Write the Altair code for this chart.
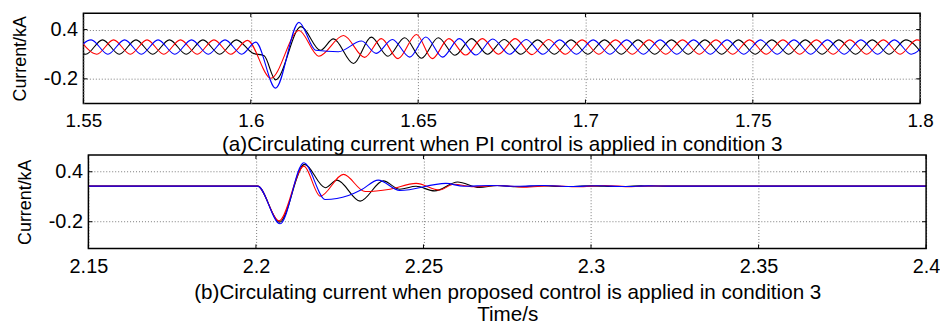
import altair as alt
import pandas as pd

# ---------------- panel (a): PI control, condition 3 ----------------
A_BLACK_T = [1.5457, 1.5507, 1.5557, 1.5607, 1.5657, 1.5707, 1.5757, 1.5807, 1.5857, 1.5907, 1.5957,
             1.6005, 1.6040, 1.6074, 1.6150, 1.6208, 1.6247, 1.6307, 1.6360, 1.6410, 1.6460, 1.6510,
             1.6560, 1.6610, 1.6660,
             1.6707, 1.6757, 1.6807, 1.6857, 1.6907, 1.6957, 1.7007, 1.7057, 1.7107, 1.7157, 1.7207,
             1.7257, 1.7307, 1.7357, 1.7407, 1.7457, 1.7507, 1.7557, 1.7607, 1.7657, 1.7707, 1.7757,
             1.7807, 1.7857, 1.7907, 1.7957, 1.8007]
A_BLACK_V = [0.275, 0.10, 0.275, 0.10, 0.275, 0.10, 0.275, 0.10, 0.275, 0.10, 0.275,
             0.115, 0.08, -0.212, 0.436, 0.148, 0.287, -0.013, 0.308, 0.076, 0.30, 0.05,
             0.30, 0.088, 0.29,
             0.10, 0.28, 0.10, 0.275, 0.10, 0.275, 0.10, 0.275, 0.10, 0.275, 0.10,
             0.275, 0.10, 0.275, 0.10, 0.275, 0.10, 0.275, 0.10, 0.275, 0.10, 0.275,
             0.10, 0.275, 0.10, 0.275, 0.10]

A_RED_T = [1.549, 1.554, 1.559, 1.564, 1.569, 1.574, 1.579, 1.584, 1.589, 1.594, 1.599,
           1.6060, 1.6144, 1.6203, 1.6277, 1.6340, 1.6390, 1.6440, 1.6495, 1.6542, 1.6592, 1.6642,
           1.6692,
           1.674, 1.679, 1.684, 1.689, 1.694, 1.699, 1.704, 1.709, 1.714, 1.719, 1.724, 1.729,
           1.734, 1.739, 1.744, 1.749, 1.754, 1.759, 1.764, 1.769, 1.774, 1.779, 1.784, 1.789,
           1.794, 1.799, 1.804]
A_RED_V = [0.275, 0.10, 0.275, 0.10, 0.275, 0.10, 0.275, 0.10, 0.275, 0.10, 0.268,
           -0.193, 0.388, 0.076, 0.328, 0.062, 0.29, 0.046, 0.34, 0.046, 0.29, 0.09,
           0.29,
           0.10, 0.29, 0.095, 0.28, 0.10, 0.275, 0.10, 0.275, 0.10, 0.275, 0.10, 0.275,
           0.10, 0.275, 0.10, 0.275, 0.10, 0.275, 0.10, 0.275, 0.10, 0.275, 0.10, 0.275,
           0.10, 0.275, 0.10]

A_BLUE_T = [1.5473, 1.5523, 1.5573, 1.5623, 1.5673, 1.5723, 1.5773, 1.5823, 1.5873, 1.5923, 1.5973,
            1.6015, 1.6074, 1.6144, 1.6194, 1.6262, 1.6331, 1.6375, 1.6423, 1.6475, 1.6523, 1.6573,
            1.6623, 1.6673, 1.6723, 1.6773, 1.6823,
            1.6873, 1.6923, 1.6973, 1.7023, 1.7073, 1.7123, 1.7173, 1.7223, 1.7273, 1.7323, 1.7373,
            1.7423, 1.7473, 1.7523, 1.7573, 1.7623, 1.7673, 1.7723, 1.7773, 1.7823, 1.7873, 1.7923,
            1.7973, 1.8023]
A_BLUE_V = [0.10, 0.275, 0.10, 0.275, 0.10, 0.275, 0.10, 0.275, 0.10, 0.275, 0.10,
            0.247, -0.313, 0.488, 0.148, 0.13, 0.26, 0.11, 0.28, 0.065, 0.31, 0.065,
            0.29, 0.09, 0.285, 0.10, 0.28,
            0.10, 0.275, 0.10, 0.275, 0.10, 0.275, 0.10, 0.275, 0.10, 0.275, 0.10,
            0.275, 0.10, 0.275, 0.10, 0.275, 0.10, 0.275, 0.10, 0.275, 0.10, 0.275,
            0.10, 0.275]

# ---------------- panel (b): proposed control, condition 3 ----------------
B_BLACK_T = [2.15, 2.2005, 2.2071, 2.2145, 2.2207, 2.2242, 2.2311, 2.2380, 2.2429, 2.2478, 2.2533,
             2.2602, 2.2666, 2.2720, 2.2780, 2.2850, 2.2920, 2.3000, 2.3080, 2.3150, 2.3230, 2.40]
B_BLACK_V = [0.2275, 0.2275, -0.205, 0.488, 0.208, 0.30, 0.047, 0.29, 0.19, 0.225, 0.17,
             0.277, 0.21, 0.235, 0.22, 0.232, 0.222, 0.23, 0.222, 0.23, 0.2275, 0.2275]

B_RED_T = [2.15, 2.2005, 2.2069, 2.2143, 2.2192, 2.2261, 2.2326, 2.2400, 2.2478, 2.2548, 2.2590,
           2.2650, 2.2720, 2.2800, 2.2880, 2.2960, 2.3040, 2.3120, 2.3180, 2.3230, 2.40]
B_RED_V = [0.2275, 0.2275, -0.19, 0.468, 0.107, 0.368, 0.162, 0.19, 0.26, 0.18, 0.25,
           0.22, 0.235, 0.215, 0.232, 0.22, 0.235, 0.22, 0.23, 0.2275, 0.2275]

B_BLUE_T = [2.15, 2.2005, 2.2072, 2.2143, 2.2207, 2.2276, 2.2316, 2.2365, 2.2429, 2.2567, 2.2620,
            2.2700, 2.2780, 2.2860, 2.2940, 2.3020, 2.3100, 2.3170, 2.3230, 2.40]
B_BLUE_V = [0.2275, 0.2275, -0.225, 0.508, 0.067, 0.115, 0.187, 0.30, 0.175, 0.26, 0.225,
            0.235, 0.225, 0.235, 0.222, 0.232, 0.222, 0.23, 0.2275, 0.2275]

X_DOMAIN_A = [1.55, 1.8]
X_DOMAIN_B = [2.15, 2.4]
X_TICKS_A = [1.55, 1.6, 1.65, 1.7, 1.75, 1.8]
X_TICKS_B = [2.15, 2.2, 2.25, 2.3, 2.35, 2.4]
Y_TICKS = [-0.2, 0.4]
Y_DOMAIN_A = [-0.5, 0.6]
Y_DOMAIN_B = [-0.52, 0.6]

COLORS = {"black": "#000000", "red": "#ff0000", "blue": "#0000ff"}
CAPTION_A = "(a)Circulating current when PI control is applied in condition 3"
CAPTION_B = "(b)Circulating current when proposed control is applied in condition 3"
X_TITLE = "Time/s"
Y_TITLE = "Current/kA"

FONT = "Liberation Sans"
GRID_COLOR = "#7a7a7a"
GRID_DASH = [1, 2]
TICK_LEN = 4


def panel(series, xdom, ydom, xticks, title, w, h, xlab, tpad, shift=0):
    """shift > 0: the plot frame starts `shift` px right of the panel origin (panel (b))."""
    xscale = alt.Scale(domain=xdom, nice=False, zero=False, range=[shift, w]) if shift else \
        alt.Scale(domain=xdom, nice=False, zero=False)
    yscale = alt.Scale(domain=ydom, nice=False, zero=False)
    xaxis = alt.Axis(values=xticks, labelExpr="toString(datum.value)", labelFlush=False,
                     title=title, labelFontSize=xlab, labelPadding=8, titleFontSize=20.8,
                     titlePadding=tpad, titleLineHeight=23)
    yaxis_kw = dict(values=Y_TICKS, labelExpr="toString(datum.value)", labelFlush=False,
                    title=Y_TITLE, labelFontSize=20, labelPadding=6, titleFontSize=18,
                    titlePadding=14)
    if shift:
        yaxis = alt.Axis(offset=-shift, grid=False, **yaxis_kw)
    else:
        yaxis = alt.Axis(**yaxis_kw)

    layers = []
    if shift:
        grid_df = pd.DataFrame({"g": Y_TICKS})
        layers.append(
            alt.Chart(grid_df).mark_rule(color=GRID_COLOR, strokeDash=GRID_DASH, strokeWidth=1)
            .encode(y=alt.Y("g:Q", scale=yscale, axis=yaxis),
                    x=alt.X(datum=xdom[0], scale=xscale, axis=xaxis), x2=alt.X2(datum=xdom[1]))
        )
    for name, t, v in series:
        df = pd.DataFrame({"t": t, "v": v})
        layers.append(
            alt.Chart(df)
            .mark_line(color=COLORS[name], strokeWidth=1.1, interpolate="monotone", clip=True)
            .encode(x=alt.X("t:Q", scale=xscale, axis=xaxis),
                    y=alt.Y("v:Q", scale=yscale, axis=yaxis))
        )

    # inward tick marks (MATLAB style) on all four sides
    xt = pd.DataFrame({"xt": xticks})
    yt = pd.DataFrame({"yt": Y_TICKS})
    tick = dict(color="#000000", strokeWidth=1)
    layers.append(alt.Chart(xt).mark_rule(**tick).encode(
        x=alt.X("xt:Q", scale=xscale, axis=xaxis), y=alt.value(0), y2=alt.value(TICK_LEN)))
    layers.append(alt.Chart(xt).mark_rule(**tick).encode(
        x=alt.X("xt:Q", scale=xscale, axis=xaxis), y=alt.value(h - TICK_LEN), y2=alt.value(h)))
    layers.append(alt.Chart(yt).mark_rule(**tick).encode(
        y=alt.Y("yt:Q", scale=yscale, axis=yaxis), x=alt.value(shift), x2=alt.value(shift + TICK_LEN)))
    layers.append(alt.Chart(yt).mark_rule(**tick).encode(
        y=alt.Y("yt:Q", scale=yscale, axis=yaxis), x=alt.value(w - TICK_LEN), x2=alt.value(w)))

    if shift:
        layers.append(
            alt.Chart(pd.DataFrame({"f": [0]}))
            .mark_rect(fill=None, fillOpacity=0, stroke="#000000", strokeWidth=1.5)
            .encode(x=alt.X(datum=xdom[0], scale=xscale, axis=xaxis), x2=alt.X2(datum=xdom[1]),
                    y=alt.Y(datum=ydom[0], scale=yscale, axis=yaxis), y2=alt.Y2(datum=ydom[1]))
        )
        return alt.layer(*layers).properties(
            width=w, height=h, view=alt.ViewBackground(stroke="transparent", strokeWidth=0))
    return alt.layer(*layers).properties(width=w, height=h)


top = panel([("black", A_BLACK_T, A_BLACK_V), ("red", A_RED_T, A_RED_V), ("blue", A_BLUE_T, A_BLUE_V)],
            X_DOMAIN_A, Y_DOMAIN_A, X_TICKS_A, CAPTION_A, 843, 91, 19, 4)
bottom = panel([("black", B_BLACK_T, B_BLACK_V), ("red", B_RED_T, B_RED_V), ("blue", B_BLUE_T, B_BLUE_V)],
               X_DOMAIN_B, Y_DOMAIN_B, X_TICKS_B, [CAPTION_B, X_TITLE], 849, 94, 20, 6, shift=5)

chart = (
    alt.vconcat(top, bottom, spacing=-1)
    .properties(padding={"left": 2, "top": 2, "right": 0, "bottom": 0})
    .configure_view(stroke="#000000", strokeWidth=1.5)
    .configure_axis(
        grid=True, gridColor=GRID_COLOR, gridDash=GRID_DASH, gridWidth=1,
        domain=False, ticks=False, tickSize=0,
        labelFont=FONT, titleFont=FONT, labelColor="#000000", titleColor="#000000",
        titleFontWeight="normal",
    )
)

chart.save("out.html", embed_options={"renderer": "svg", "actions": False})
